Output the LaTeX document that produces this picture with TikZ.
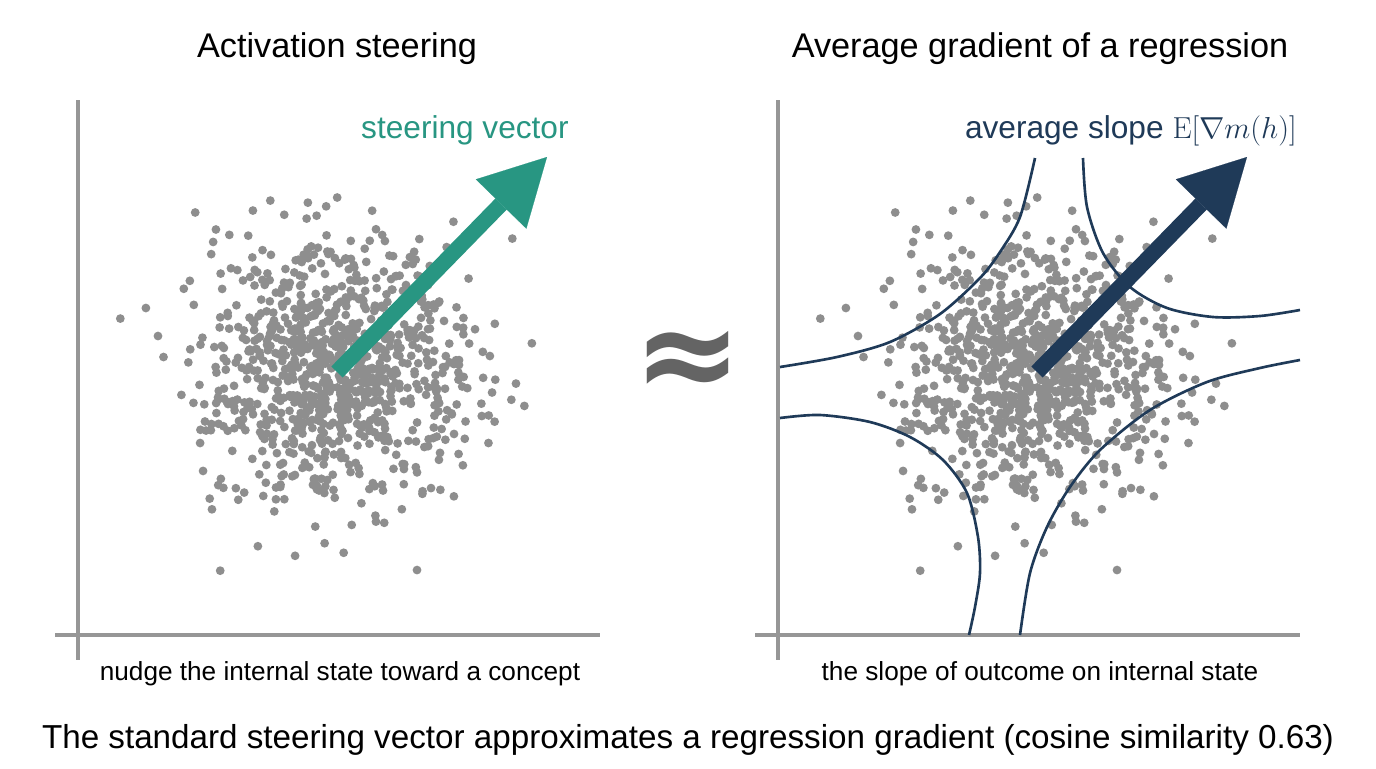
\documentclass[tikz,border=0pt]{standalone}
\usepackage[no-math]{fontspec}
\setmainfont{Liberation Sans}
\newfontfamily\signofont{DejaVu Sans}
\usetikzlibrary{arrows.meta}
\definecolor{figTeal}{RGB}{40,150,130}
\definecolor{figNavy}{RGB}{31,58,88}
\definecolor{figPunto}{RGB}{142,142,142}
\definecolor{figEje}{RGB}{150,150,150}
\definecolor{figSigno}{RGB}{100,100,100}
\tikzset{
  eje/.style={draw=figEje, line width=2.3pt},
  punto/.style={fill=figPunto},
  contorno/.style={draw=figNavy, line width=1.5pt},
  flecha/.style={-{Triangle[length=37.4pt, width=40.2pt, line width=0.1pt]}, line width=9pt},
  titulo/.style={font=\fontsize{19.5}{23}\selectfont, anchor=base, inner sep=0pt},
  rotulo/.style={font=\fontsize{18}{22}\selectfont, anchor=base east, inner sep=0pt},
  pie/.style={font=\fontsize{14.9}{18}\selectfont, anchor=base, inner sep=0pt},
  leyenda/.style={font=\fontsize{18.9}{22}\selectfont, anchor=base, inner sep=0pt},
  signo/.style={font=\signofont\bfseries\fontsize{74}{74}\selectfont, text=figSigno, inner sep=0pt}
}
% nube gaussiana de puntos
\newcommand{\nube}[2]{%
  \pgfmathsetseed{4242}%
  \foreach \k in {1,...,950}{%
    \pgfmathsetmacro{\rr}{64*sqrt(-2*ln(0.001+0.998*rnd))}%
    \pgfmathsetmacro{\aa}{360*rnd}%
    \fill[punto] ({#1+\rr*cos(\aa)},{#2+\rr*sin(\aa)}) circle[radius=2.5pt];
  }}
\begin{document}
\begin{tikzpicture}[x=0.02cm, y=-0.02cm]
  \fill[white] (0,0) rectangle (1376,768);
  \useasboundingbox (0,0) rectangle (1376,768);

  % Panel 1: activation steering
  \draw[eje] (78,100) -- (78,660);
  \draw[eje] (55,635) -- (600,635);
  \nube{337}{372}
  \coordinate (colaA) at (337,372);
  \coordinate (puntaA) at (547,157);
  \draw[flecha, draw=figTeal] (colaA) -- (puntaA);
  \node[titulo] (tituloA) at (337,57) {Activation steering};
  \node[rotulo, text=figTeal] (vector) at (569,138) {steering vector};
  \node[pie] (pieA) at (340,680) {nudge the internal state toward a concept};

  % signo de aproximacion
  \node[signo] (aprox) at (688,365) {≈};

  % Panel 2: gradiente medio
  \draw[eje] (778,100) -- (778,660);
  \draw[eje] (755,635) -- (1300,635);
  \nube{1037}{372}
  \draw[contorno] plot[smooth] coordinates {(780,367) (837,357) (890,342) (940,314) (980,278) (1000,252) (1020,217) (1035,158)};
  \draw[contorno] plot[smooth] coordinates {(1083,158) (1087,207) (1103,253) (1130,287) (1167,308) (1213,317) (1260,316) (1300,310)};
  \draw[contorno] plot[smooth] coordinates {(780,418) (820,415) (870,422) (910,437) (943,460) (967,493) (978,537) (980,573) (975,607) (969,635)};
  \draw[contorno] plot[smooth] coordinates {(1020,635) (1030,573) (1047,527) (1070,487) (1100,450) (1150,410) (1207,382) (1260,368) (1300,360)};
  \coordinate (colaB) at (1037,372);
  \coordinate (puntaB) at (1247,157);
  \draw[flecha, draw=figNavy] (colaB) -- (puntaB);
  \node[titulo] (tituloB) at (1040,57) {Average gradient of a regression};
  \node[rotulo, text=figNavy] (pendiente) at (1297,138) {average slope $\mathrm{E}[\nabla m(h)]$};
  \node[pie] (pieB) at (1040,680) {the slope of outcome on internal state};

  % leyenda inferior
  \node[leyenda] (leyenda) at (688,748) {The standard steering vector approximates a regression gradient (cosine similarity 0.63)};
\end{tikzpicture}
\end{document}
